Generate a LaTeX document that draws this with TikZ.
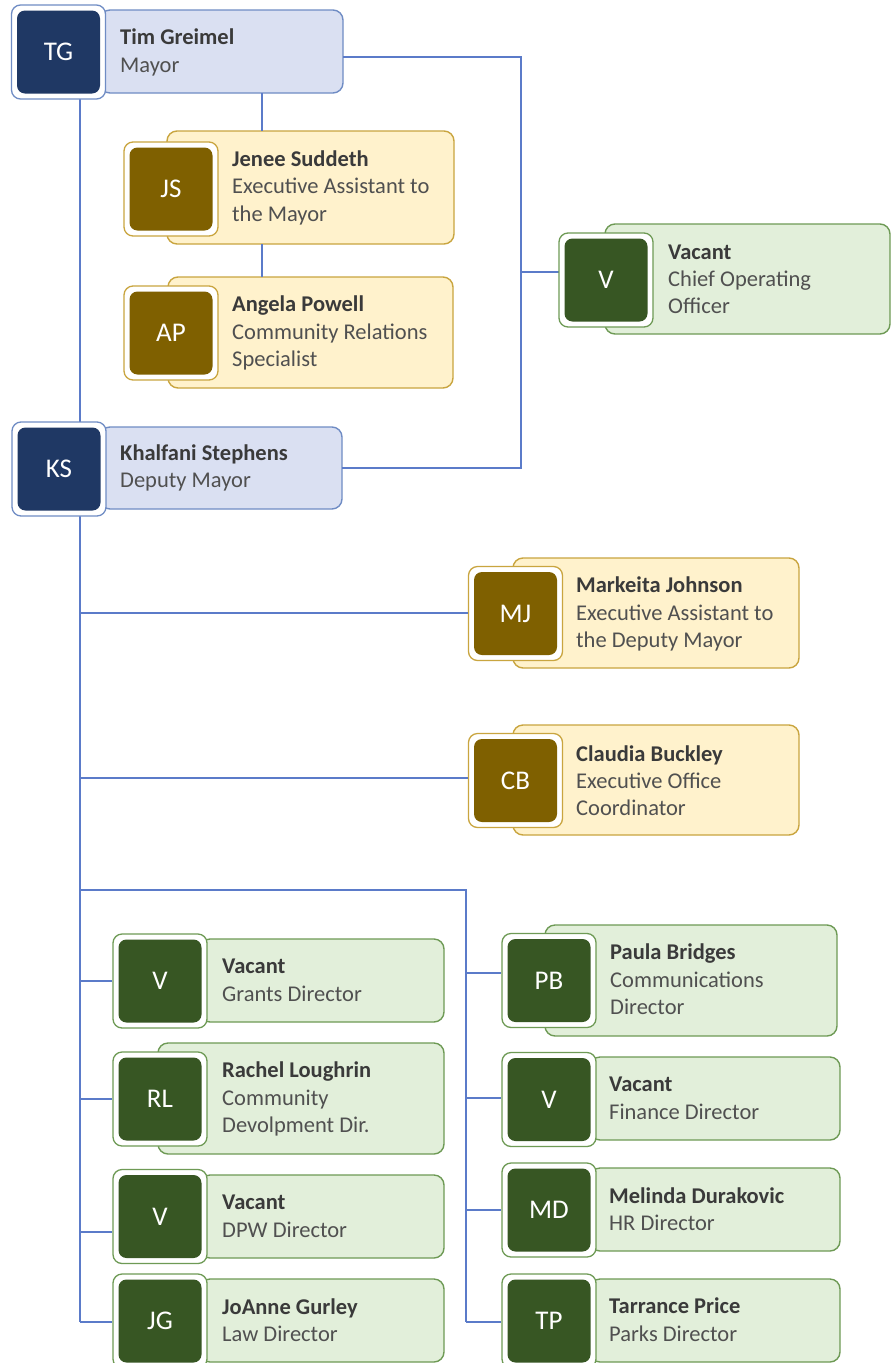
\documentclass[tikz,border=0pt]{standalone}
\usepackage{fontspec}
\setmainfont{Carlito}
\usetikzlibrary{fit}
\definecolor{bfill}{HTML}{DAE0F2}
\definecolor{bbd}{HTML}{6F8CC4}
\definecolor{bdark}{HTML}{1F3864}
\definecolor{yfill}{HTML}{FFF2CC}
\definecolor{ybd}{HTML}{C9A53F}
\definecolor{ydark}{HTML}{7F6000}
\definecolor{gfill}{HTML}{E2EFDA}
\definecolor{gbd}{HTML}{6E9A55}
\definecolor{gdark}{HTML}{375623}
\definecolor{conncol}{HTML}{5B7BC9}
\definecolor{nametxt}{HTML}{3A3A3A}
\definecolor{titletxt}{HTML}{505050}
\tikzset{
  bodybase/.style={rounded corners=10pt, line width=1.4pt},
  bodyb/.style={bodybase, draw=bbd, fill=bfill},
  bodyy/.style={bodybase, draw=ybd, fill=yfill},
  bodyg/.style={bodybase, draw=gbd, fill=gfill},
  bo/.style={minimum width=94pt, minimum height=94pt, rounded corners=9pt, fill=white, line width=1.3pt, inner sep=0pt},
  bob/.style={bo, draw=bbd}, boy/.style={bo, draw=ybd}, bog/.style={bo, draw=gbd},
  bi/.style={minimum width=83pt, minimum height=83pt, rounded corners=8pt, text=white, font=\fontsize{27}{27}\selectfont, inner sep=0pt},
  bib/.style={bi, fill=bdark}, biy/.style={bi, fill=ydark}, big/.style={bi, fill=gdark},
  nm/.style={anchor=base west, inner sep=0pt, text=nametxt, font=\fontsize{22.5}{28}\selectfont\bfseries},
  tl/.style={anchor=base west, inner sep=0pt, text=titletxt, font=\fontsize{22.5}{28}\selectfont},
  connector/.style={draw=conncol, line width=1.6pt},
}
% \bodybox{name}{style}{x1,y1}{x2,y2}
\newcommand\bodybox[4]{\path[#2] (#3) rectangle (#4); \node[inner sep=0pt, fit={(#3) (#4)}] (#1) {};}
% \badgebox{name}{kind}{cx,cy}{initials}
\newcommand\badgebox[4]{\node[bo#2] (#1o) at (#3) {}; \node[bi#2] (#1) at (#3) {#4};}
\begin{document}
\begin{tikzpicture}[x=1pt, y=-1pt]
\useasboundingbox (0,0) rectangle (892,1363);
\fill[white] (0,0) rectangle (892,1363);
% coordinates for connector routing
\coordinate (X80) at (80,0);
\coordinate (X262) at (262,0);
\coordinate (R1) at (521,57);
\coordinate (R2) at (521,272);
\coordinate (K1) at (80,613);
\coordinate (K2) at (80,778);
\coordinate (K3) at (80,890);
\coordinate (K4) at (466,890);
\coordinate (KE) at (80,1322);
\coordinate (KE2) at (466,1322);
\coordinate (LA) at (80,981);
\coordinate (LB) at (80,1099);
\coordinate (LC) at (80,1232);
\coordinate (RA) at (466,973);
\coordinate (RB) at (466,1098);
\coordinate (RC) at (466,1210);

% bodies
\bodybox{tg}{bodyb}{100,10}{343,93}
\bodybox{js}{bodyy}{167,131}{454,244}
\bodybox{ap}{bodyy}{168,277}{453,388}
\bodybox{ks}{bodyb}{100,427}{342,509}
\bodybox{coo}{bodyg}{605,224}{890,334}
\bodybox{mj}{bodyy}{513,558}{799,668}
\bodybox{cb}{bodyy}{513,725}{799,835}
\bodybox{vg}{bodyg}{200,939}{444,1022}
\bodybox{rl}{bodyg}{158,1043}{444,1154}
\bodybox{vd}{bodyg}{200,1175}{444,1258}
\bodybox{jg}{bodyg}{200,1279}{444,1362}
\bodybox{pb}{bodyg}{545,925}{837,1036}
\bodybox{vf}{bodyg}{590,1057}{840,1140}
\bodybox{md}{bodyg}{590,1168}{840,1251}
\bodybox{tp}{bodyg}{590,1279}{840,1362}

% connectors
\draw[connector] (X80 |- tg.south) -- (X80 |- ks.north);
\draw[connector] (X262 |- tg.south) -- (X262 |- js.north);
\draw[connector] (X262 |- js.south) -- (X262 |- ap.north);
\draw[connector] (R1 -| tg.east) -- (R1) |- (ks.east);
\draw[connector] (R2) -- (R2 -| coo.west);
\draw[connector] (X80 |- ks.south) -- (KE);
\draw[connector] (K3) -- (K4) -- (KE2);

% badges
\badgebox{tgb}{b}{58.5,52}{TG}
\badgebox{jsb}{y}{171,189}{JS}
\badgebox{apb}{y}{171,333}{AP}
\badgebox{ksb}{b}{59,469}{KS}
\badgebox{coob}{g}{606,280}{V}
\badgebox{mjb}{y}{515.5,613.5}{MJ}
\badgebox{cbb}{y}{515.5,780.5}{CB}
\badgebox{vgb}{g}{160,981}{V}
\badgebox{rlb}{g}{160,1099}{RL}
\badgebox{vdb}{g}{160,1216.5}{V}
\badgebox{jgb}{g}{160,1321}{JG}
\badgebox{pbb}{g}{549,980.5}{PB}
\badgebox{vfb}{g}{549,1099.5}{V}
\badgebox{mdb}{g}{549,1210}{MD}
\badgebox{tpb}{g}{549,1321}{TP}

% branch connectors into badges
\draw[connector] (K1) -- (K1 -| mjbo.west);
\draw[connector] (K2) -- (K2 -| cbbo.west);
\draw[connector] (LA) -- (LA -| vgbo.west);
\draw[connector] (LB) -- (LB -| rlbo.west);
\draw[connector] (LC) -- (LC -| vdbo.west);
\draw[connector] (KE) -- (KE -| jgbo.west);
\draw[connector] (RA) -- (RA -| pbbo.west);
\draw[connector] (RB) -- (RB -| vfbo.west);
\draw[connector] (RC) -- (RC -| mdbo.west);
\draw[connector] (KE2) -- (KE2 -| tpbo.west);

% texts
\node[nm] (tg1) at (120,44) {Tim Greimel};
\node[tl] (tg2) at (120,72) {Mayor};
\node[nm] (js1) at (232,166) {Jenee Suddeth};
\node[tl] (js2) at (232,193) {Executive Assistant to};
\node[tl] (js3) at (232,221) {the Mayor};
\node[nm] (ap1) at (232,311) {Angela Powell};
\node[tl] (ap2) at (232,339) {Community Relations};
\node[tl] (ap3) at (232,366) {Specialist};
\node[nm] (ks1) at (120,460) {Khalfani Stephens};
\node[tl] (ks2) at (120,487) {Deputy Mayor};
\node[nm] (coo1) at (668,259) {Vacant};
\node[tl] (coo2) at (668,286) {Chief Operating};
\node[tl] (coo3) at (668,313) {Officer};
\node[nm] (mj1) at (576,592) {Markeita Johnson};
\node[tl] (mj2) at (576,620) {Executive Assistant to};
\node[tl] (mj3) at (576,647) {the Deputy Mayor};
\node[nm] (cb1) at (576,761) {Claudia Buckley};
\node[tl] (cb2) at (576,788) {Executive Office};
\node[tl] (cb3) at (576,815) {Coordinator};
\node[nm] (vg1) at (222,973) {Vacant};
\node[tl] (vg2) at (222,1001) {Grants Director};
\node[nm] (rl1) at (222,1077) {Rachel Loughrin};
\node[tl] (rl2) at (222,1105) {Community};
\node[tl] (rl3) at (222,1132) {Devolpment Dir.};
\node[nm] (vd1) at (222,1209) {Vacant};
\node[tl] (vd2) at (222,1237) {DPW Director};
\node[nm] (jg1) at (222,1314) {JoAnne Gurley};
\node[tl] (jg2) at (222,1341) {Law Director};
\node[nm] (pb1) at (610,959) {Paula Bridges};
\node[tl] (pb2) at (610,987) {Communications};
\node[tl] (pb3) at (610,1014) {Director};
\node[nm] (vf1) at (609,1091) {Vacant};
\node[tl] (vf2) at (609,1119) {Finance Director};
\node[nm] (md1) at (609,1203) {Melinda Durakovic};
\node[tl] (md2) at (609,1230) {HR Director};
\node[nm] (tp1) at (609,1313) {Tarrance Price};
\node[tl] (tp2) at (609,1341) {Parks Director};
\end{tikzpicture}
\end{document}
